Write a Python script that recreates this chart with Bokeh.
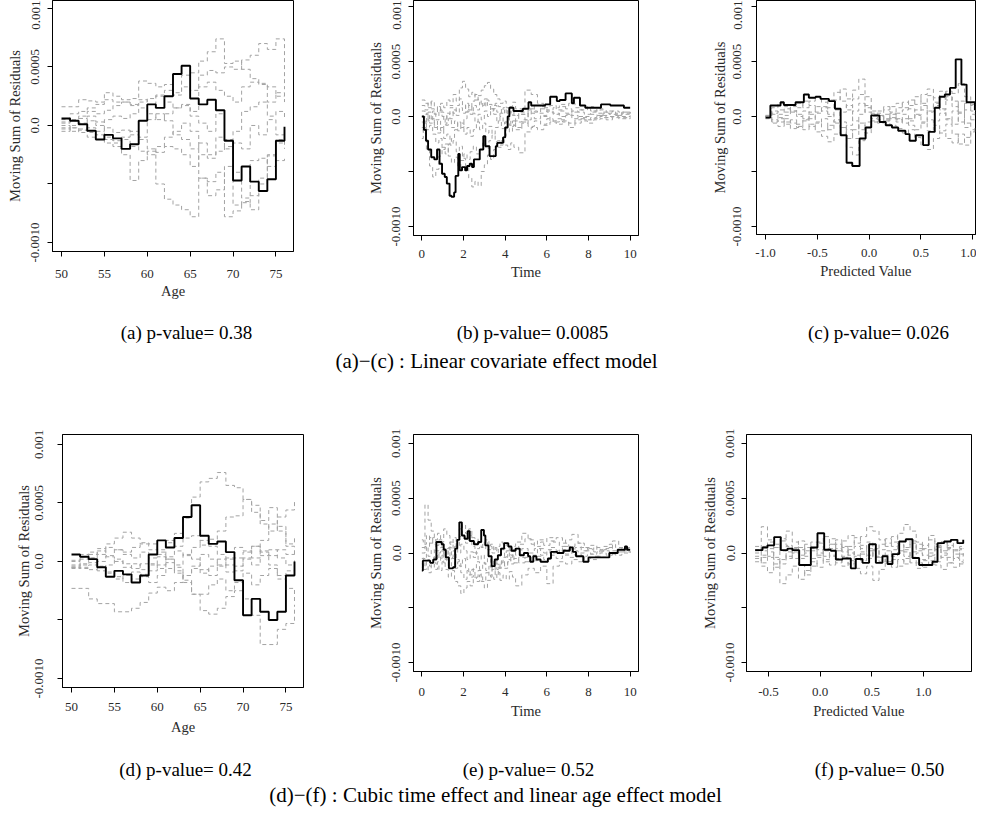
from bokeh.plotting import figure
from bokeh.layouts import column, row
from bokeh.models import FixedTicker, Range1d, PrintfTickFormatter
from bokeh.embed import file_html
from bokeh.resources import INLINE
from bokeh.core.properties import value

FONT = "Liberation Serif"

# ---------------- data (all residual values in units of 1e-4) ----------------
Y_TICKS = [-10, -5, 0, 5, 10]
Y_TICK_LABELS = {-10: "-0.0010", -5: "", 0: "0.0", 5: "0.0005", 10: "0.001"}
Y_LABEL = "Moving Sum of Residuals"

AGE = [50, 51, 52, 53, 54, 55, 56, 57, 58, 59, 60, 61, 62, 63, 64, 65, 66, 67, 68, 69, 70, 71, 72, 73, 74, 75, 76]
AGE_TICKS = [50, 55, 60, 65, 70, 75]
TIME_TICKS = [0, 2, 4, 6, 8, 10]
PRED_TICKS_C = [-1.0, -0.5, 0.0, 0.5, 1.0]
PRED_TICKS_F = [-0.5, 0.0, 0.5, 1.0]

# (a) age, linear model
A_OBS = [0.6, 0.4, 0.1, -0.45, -1.2, -0.8, -1.1, -2.0, -1.6, 0.4, 1.8, 1.5, 2.5, 4.4, 5.1, 2.3, 1.8, 2.2, 1.3, -1.3, -4.7, -3.5, -4.8, -5.6, -4.6, -1.3, -0.1]
A_SIM = [
    [1.6, 1.6, 2.2, 2.1, 2.0, 2.8, 2.5, 2.2, 2.3, 3.8, 3.6, 3.3, 3.5, 2.8, 4.3, 4.5, 5.5, 6.3, 7.4, 5.3, 5.5, 4.8, 4.0, 3.6, 3.3, 2.5, 3.0],
    [0.2, 0.5, 0.8, 1.2, 1.0, 1.3, 1.7, 2.0, 1.7, 2.2, 1.8, 2.5, 3.0, 2.6, 3.3, 3.0, 4.3, 4.7, 4.5, 5.0, 4.8, 5.6, 6.0, 7.0, 6.5, 7.4, 3.1],
    [-0.2, -0.5, -0.4, -1.0, -1.2, -1.5, -1.8, -2.5, -4.7, -3.0, -2.2, -5.0, -6.3, -6.8, -7.2, -7.8, -4.5, -4.8, -4.0, -7.8, -7.3, -6.6, -6.0, -4.5, -2.6, -3.0, -2.8],
    [-0.5, -0.2, -0.6, 0.8, 0.3, -1.0, -1.3, -1.0, -0.5, -1.0, 0.5, 1.0, 0.4, -0.8, -1.2, -2.0, -1.5, -2.5, -1.0, -1.2, -6.8, -6.5, -7.2, -5.0, -2.5, -1.2, -2.0],
    [0.5, 1.0, 1.2, 1.5, 1.8, 2.2, 2.0, 2.0, 1.8, 2.0, 2.3, 2.6, 2.0, 1.5, 1.8, 1.2, 3.3, 3.7, 3.0, 2.5, 2.0, 3.3, 3.7, 3.5, 2.0, 2.8, 2.0],
    [0.0, -0.2, -0.3, -0.6, -0.8, -1.2, -1.5, -1.2, -1.8, -2.2, -2.5, -1.8, -1.0, -0.5, 0.2, -0.5, -4.5, -6.0, -5.5, -3.5, -4.0, -6.2, -3.0, -2.8, -3.5, -1.5, -1.2],
    [0.3, 0.4, 0.6, 0.4, 0.0, 0.5, 0.8, 0.6, 1.0, 1.5, 1.0, 0.5, 1.0, 1.5, 1.7, 0.8, 0.2, -0.5, 1.0, -2.0, -0.5, 1.2, 1.6, 2.0, 0.8, 1.2, 0.5],
    [-0.3, 0.0, 0.2, -0.2, -0.5, -0.2, -0.6, -0.4, -0.8, -1.2, -2.0, -2.3, -1.8, -2.0, -2.5, -3.5, -2.5, -2.8, -2.2, -1.8, -1.5, -2.0, 0.0, -0.8, 0.5, -0.8, -0.5],
]

# (d) age, cubic time model
D_OBS = [0.6, 0.4, 0.2, -0.5, -1.3, -0.8, -1.1, -1.8, -1.2, 0.6, 1.8, 1.2, 2.0, 3.8, 4.8, 2.2, 1.5, 1.7, 0.8, -1.6, -4.6, -3.2, -4.3, -5.0, -4.3, -1.2, 0.0]
D_SIM = [
    [-2.3, -2.3, -3.2, -3.6, -3.6, -4.3, -4.3, -4.0, -3.5, -2.7, -2.2, -2.5, -1.8, -1.2, -0.6, -1.0, -0.4, 0.2, -0.3, 0.3, 0.8, 1.3, 0.9, 0.5, 1.0, 0.6, 0.9],
    [-0.3, 0.2, 0.6, 1.1, 1.5, 2.0, 2.5, 2.0, 1.5, 1.5, 1.0, 1.6, 2.4, 3.7, 5.5, 6.8, 7.1, 7.6, 6.5, 6.3, 5.3, 4.2, 3.2, 2.6, 3.8, 4.4, 5.3],
    [-0.5, -0.6, -0.3, -0.8, -1.0, -1.5, -1.2, -0.9, -1.3, -1.8, -1.2, -0.6, -1.0, -1.6, -2.8, -4.2, -4.5, -4.0, -3.0, -2.5, -3.2, -4.6, -7.1, -7.1, -5.8, -5.3, -3.7],
    [-0.4, -0.2, 0.3, 0.0, 0.5, 1.0, 0.8, 1.2, 1.6, 1.0, 0.6, 1.8, 1.3, 2.0, 2.2, 1.4, 1.9, 2.6, 3.8, 3.9, 5.3, 4.8, 3.5, 4.6, 3.0, 1.5, 2.2],
    [0.0, 0.4, 0.8, 0.6, 1.2, 1.0, 0.6, 0.3, 0.8, -0.2, -0.6, 0.2, -0.5, -1.8, -2.8, -2.8, -2.0, -1.5, -2.5, -1.8, -1.0, -2.0, -1.2, -0.6, -1.5, -2.3, -3.5],
    [-0.6, -0.5, -0.7, -0.4, -0.9, -1.3, -1.8, -1.5, -1.1, -0.8, -0.3, 0.4, 0.9, 0.5, 1.2, 1.8, 1.3, 0.6, 0.2, 1.2, 0.9, 0.3, 1.8, 3.2, 2.6, 1.3, 0.5],
    [-0.5, -0.3, -0.1, -0.5, -0.3, 0.2, -0.2, -0.6, -0.2, 0.3, 0.8, 0.2, -0.3, 0.6, 0.2, -0.7, -1.2, -0.4, 0.3, -0.8, 0.3, 1.3, 0.8, -0.3, -1.2, -0.8, -0.2],
    [0.1, 0.6, 0.3, 0.9, 0.4, 0.0, -0.5, -0.2, -0.7, -0.3, 0.4, -0.1, -0.8, -1.2, -0.4, 0.6, 0.2, -0.3, -0.9, -0.4, 0.2, -0.3, 0.5, 1.0, 0.3, -0.3, 0.3],
]

# time grids for the simulated paths of (b) and (e)
T_GRID1 = [0, 0.15, 0.3, 0.45, 0.6, 0.75, 0.9, 1.05, 1.2, 1.35, 1.5, 1.65, 1.8, 1.95, 2.1, 2.25, 2.4, 2.55, 2.7, 2.85, 3.0, 3.15, 3.3, 3.45, 3.6, 3.75, 3.9, 4.05, 4.2, 4.35, 4.5, 4.8, 5.1, 5.4, 5.7, 6.0, 6.3, 6.6, 6.9, 7.2, 7.5, 7.8, 8.1, 8.4, 8.7, 9.0, 9.3, 9.6, 10.0]
T_GRID2 = [0, 0.07, 0.22, 0.37, 0.52, 0.67, 0.82, 0.97, 1.12, 1.27, 1.42, 1.57, 1.72, 1.87, 2.02, 2.17, 2.32, 2.47, 2.62, 2.77, 2.92, 3.07, 3.22, 3.37, 3.52, 3.67, 3.82, 3.97, 4.12, 4.27, 4.42, 4.65, 4.95, 5.25, 5.55, 5.85, 6.15, 6.45, 6.75, 7.05, 7.35, 7.65, 7.95, 8.25, 8.55, 8.85, 9.15, 9.45, 10.0]

# (b) time, linear model
B_OBS_T = [0, 0.1, 0.2, 0.3, 0.45, 0.6, 0.73, 0.85, 0.97, 1.1, 1.2, 1.33, 1.42, 1.55, 1.62, 1.75, 1.82, 1.93, 2.08, 2.17, 2.3, 2.41, 2.5, 2.78, 2.95, 3.05, 3.25, 3.55, 3.62, 3.9, 4.0, 4.12, 4.2, 4.4, 4.85, 5.12, 5.25, 5.36, 5.92, 6.16, 6.48, 6.62, 6.9, 7.2, 7.3, 7.59, 7.85, 8.6, 9.05, 9.7, 10.0]
B_OBS = [0.0, -1.2, -2.2, -3.0, -3.7, -3.9, -3.0, -4.3, -5.2, -5.5, -6.1, -7.2, -7.3, -6.9, -5.4, -3.4, -4.9, -4.6, -4.9, -4.5, -4.3, -4.6, -3.9, -3.0, -1.8, -2.7, -3.6, -2.7, -2.4, -1.9, -1.0, 0.0, 0.8, 0.5, 0.7, 1.3, 1.0, 1.0, 1.1, 1.8, 1.4, 1.5, 2.1, 1.2, 1.7, 1.0, 0.8, 1.1, 1.0, 0.8, 0.8]
B_SIM = [
    (1, [1.5, 1.2, 0.8, 1.4, 0.9, 0.5, 1.2, 0.8, 1.5, 1.0, 2.0, 1.4, 2.6, 3.2, 2.5, 1.8, 2.2, 1.5, 1.9, 2.4, 2.8, 3.1, 2.5, 2.0, 1.6, 1.2, 1.4, 0.8, 0.4, 0.1, -0.5, -0.3, 0.6, 1.0, 0.7, 0.4, 0.2, 0.5, 0.3, 0.1, -0.2, 0.0, 0.2, 0.1, 0.3, 0.2, 0.1, 0.2, 0.2]),
    (2, [-0.5, -1.5, -3.0, -4.5, -5.5, -4.8, -3.6, -2.8, -3.4, -2.5, -2.0, -1.2, -0.5, -1.0, -0.2, 0.5, 0.2, 1.0, 0.6, 1.3, 0.9, 1.5, 1.1, 0.7, 1.2, 0.9, 0.3, 0.6, 0.2, 0.5, 0.1, 0.4, 2.4, 2.0, 1.2, 0.8, 1.0, 0.6, 0.9, 1.2, 0.8, 0.6, 0.9, 0.5, 0.6, 0.4, 0.5, 0.4, 0.3]),
    (1, [0.5, 0.2, -0.4, -0.2, -0.8, -1.5, -1.0, -2.0, -1.6, -2.6, -2.2, -3.2, -2.7, -3.8, -4.6, -5.6, -6.4, -5.9, -6.3, -5.0, -4.4, -3.5, -3.9, -3.0, -2.2, -2.6, -1.8, -1.0, -1.4, -0.8, -1.2, -0.5, -0.9, -0.4, -0.7, -0.2, -0.5, -0.3, 0.1, -0.2, 0.0, -0.3, -0.1, 0.1, -0.1, 0.0, 0.1, 0.0, 0.1]),
    (2, [-1.0, -0.6, -1.2, -0.8, -1.6, -2.4, -2.0, -3.0, -2.5, -3.6, -4.2, -3.7, -4.6, -4.0, -3.4, -3.9, -3.2, -2.7, -3.4, -3.0, -2.4, -2.9, -2.2, -1.7, -2.3, -2.8, -2.1, -2.6, -3.0, -2.4, -2.8, -3.3, -1.4, -1.0, -1.2, -0.8, -0.5, -0.7, -0.4, -0.6, -0.3, -0.1, -0.3, -0.2, 0.0, -0.1, 0.0, -0.1, 0.0]),
    (1, [1.0, 0.6, 1.3, 0.7, 0.2, 0.9, 0.4, -0.3, 0.3, -0.2, 0.6, 0.1, 0.8, 0.3, 1.2, 0.6, 1.4, 2.0, 1.5, 1.0, 1.6, 1.0, 0.5, 1.0, 0.4, 0.0, -0.6, -0.2, -0.8, -0.4, -1.0, -0.6, 0.3, -0.2, 0.1, 0.5, 0.3, 0.0, 0.2, 0.5, 0.4, 0.2, 0.4, 0.3, 0.1, 0.3, 0.2, 0.3, 0.2]),
    (2, [-2.0, -1.0, 0.3, -0.6, 0.5, -0.3, 0.6, 0.0, -0.8, -0.2, -1.0, -0.4, -1.3, -0.6, -1.6, -1.0, -1.8, -1.2, -0.5, -1.2, -0.6, -1.5, -0.9, -1.6, -1.0, -0.4, -1.1, -0.5, -0.2, -0.9, -0.4, 0.2, -0.3, 0.5, 0.3, 0.0, -0.4, -0.2, -0.5, -1.0, -0.6, -0.4, -0.6, -0.3, -0.2, -0.3, -0.1, -0.2, -0.1]),
    (1, [0.0, -0.5, 0.4, -0.3, -1.0, -0.4, -1.3, -0.7, 0.2, 0.8, 0.3, 1.0, 1.6, 1.0, 0.4, 1.0, 0.3, -0.5, 0.2, -0.3, 0.5, 0.0, 0.7, 0.2, -0.4, 0.3, 0.8, 0.3, 0.9, 1.3, 0.7, 0.2, 0.7, 0.4, 0.9, 0.6, 0.8, 1.1, 0.7, 0.4, 0.6, 0.8, 0.5, 0.7, 0.4, 0.5, 0.3, 0.4, 0.3]),
]

# (e) time, cubic time model
E_OBS_T = [0, 0.05, 0.4, 0.55, 0.7, 0.95, 1.05, 1.15, 1.3, 1.5, 1.6, 1.7, 1.8, 1.92, 2.05, 2.2, 2.3, 2.5, 2.7, 2.85, 2.98, 3.05, 3.2, 3.35, 3.5, 3.65, 3.8, 3.95, 4.15, 4.3, 4.5, 4.7, 4.9, 5.1, 5.2, 5.35, 5.5, 5.7, 6.05, 6.2, 6.5, 6.8, 7.1, 7.25, 7.4, 7.75, 8.0, 8.6, 9.0, 9.4, 9.75, 9.85, 10.0]
E_OBS = [-1.6, -0.7, -0.9, -0.6, 1.0, 0.8, 0.3, -0.4, -1.4, -1.3, 0.4, 1.2, 2.8, 1.6, 1.3, 2.0, 1.1, 0.8, 1.0, 2.1, 1.6, 0.7, -0.3, -1.2, -0.6, -0.2, 0.4, 0.9, 0.6, 0.2, 0.4, -0.2, 0.0, -0.3, -0.8, -0.3, -0.6, -0.8, -0.5, 0.1, 0.0, 0.2, 0.5, 0.1, -0.3, -0.8, -0.4, -0.4, 0.0, 0.3, 0.6, 0.3, 0.3]
E_SIM = [
    (1, [0.5, 4.4, 3.0, 2.0, 1.2, 1.8, 1.0, 2.2, 1.6, 0.8, 1.4, 0.6, 1.5, 2.6, 1.8, 2.2, 1.4, 0.8, 1.3, 0.5, 1.0, 0.3, 0.8, 0.2, 0.6, 1.0, 0.4, 0.8, 0.2, 0.6, 1.0, 1.8, 1.2, 0.6, 1.0, 1.4, 1.0, 0.6, 1.2, 1.7, 0.9, 0.5, 0.7, 0.3, 0.6, 0.8, 0.5, 0.4, 0.4]),
    (2, [-1.0, -1.5, -0.6, -1.2, -0.4, -1.0, -1.6, -0.8, -1.5, -2.2, -1.6, -2.6, -3.0, -3.7, -3.2, -2.6, -3.0, -2.2, -2.6, -2.0, -2.5, -1.8, -1.2, -1.6, -1.0, -1.4, -0.8, -1.2, -0.6, -1.0, -0.5, -0.9, -0.4, -0.7, -0.3, -0.6, -0.2, -0.5, -0.2, -0.4, -0.1, -0.3, -0.1, -0.3, 0.0, -0.2, 0.0, 0.1, 0.0]),
    (1, [0.0, 0.6, -0.3, 0.3, -0.6, 0.0, 0.5, -0.2, 0.4, -0.4, 0.2, -0.6, -1.2, -0.5, -1.4, -2.0, -1.5, -2.2, -1.6, -2.6, -3.2, -2.5, -2.0, -2.4, -1.8, -2.5, -2.0, -2.4, -1.7, -2.2, -3.0, -2.0, -1.4, -1.8, -1.2, -2.8, -1.2, -0.8, -1.0, -0.6, -0.8, -0.4, -0.6, -0.3, -0.4, -0.1, -0.2, 0.0, 0.1]),
    (2, [1.2, 0.8, 1.6, 0.9, 1.4, 0.7, 1.2, 0.4, -0.3, 0.5, -0.2, 0.6, 0.0, 0.8, 0.2, -0.6, 0.1, -0.4, 0.4, 1.0, 0.4, 1.2, 0.6, 0.0, 0.5, -0.2, 0.3, -0.4, 0.2, -0.2, 0.3, 0.8, 1.3, 0.8, 1.2, 0.7, 1.1, 1.4, 0.9, 0.6, 0.9, 0.5, 0.3, 0.5, 0.2, 0.4, 1.1, 0.5, 0.5]),
    (1, [-0.5, -1.2, -1.8, -1.0, -1.5, -0.8, -0.2, -0.9, 0.2, 1.0, 0.4, 1.2, 2.2, 1.5, 0.9, 1.6, 0.6, 0.0, -0.6, -0.2, -1.0, -0.5, -1.3, -0.7, -1.5, -0.9, -0.4, 0.2, -0.4, 0.3, -0.2, 0.4, 0.0, 0.4, -0.2, 0.3, 0.0, 0.3, -0.1, 0.2, 0.0, 0.2, -0.1, 0.1, 0.2, 0.0, 0.1, 0.2, 0.1]),
    (2, [-1.3, -0.4, 0.6, 1.4, 0.8, 0.2, -0.5, 0.3, -0.6, -1.2, -0.5, -1.4, -0.8, -1.8, -2.4, -1.6, -2.2, -1.4, -0.8, -1.5, -0.9, -1.6, -2.2, -1.5, -2.0, -1.3, -0.7, -1.4, -0.8, -0.3, -0.9, -0.4, -0.8, -0.2, 0.4, 0.0, 0.5, 0.2, 0.6, 0.3, 0.5, 0.2, 0.4, 0.1, 0.3, 0.5, 0.2, 0.3, 0.2]),
]

# (c) predicted value, linear model
C_GRID = [-1.0, -0.94, -0.88, -0.82, -0.76, -0.7, -0.64, -0.58, -0.52, -0.46, -0.4, -0.34, -0.28, -0.22, -0.16, -0.1, -0.04, 0.02, 0.08, 0.14, 0.2, 0.26, 0.32, 0.38, 0.44, 0.5, 0.56, 0.62, 0.68, 0.74, 0.8, 0.86, 0.92, 0.98, 1.02]
C_OBS_X = [-1.0, -0.953, -0.855, -0.823, -0.71, -0.63, -0.582, -0.517, -0.469, -0.388, -0.33, -0.275, -0.218, -0.163, -0.092, -0.034, 0.02, 0.1, 0.16, 0.22, 0.28, 0.35, 0.39, 0.45, 0.52, 0.575, 0.633, 0.68, 0.73, 0.78, 0.835, 0.89, 0.94, 1.0, 1.02]
C_OBS = [-0.1, 1.0, 1.3, 1.05, 1.3, 2.0, 1.7, 1.8, 1.6, 1.4, 0.7, -1.7, -4.2, -4.5, -2.0, -1.0, 0.1, -0.5, -0.8, -1.0, -1.3, -1.6, -2.2, -1.7, -2.6, -1.4, 0.8, 1.8, 2.0, 2.6, 5.2, 2.9, 1.3, 1.3, 0.6]
C_SIM = [
    [0.0, 0.3, 0.6, 0.4, 0.9, 1.2, 0.8, 1.4, 1.8, 1.3, 0.8, 1.5, 2.5, 1.6, 2.4, 3.4, 1.8, 0.5, 0.3, 0.6, 0.9, 1.2, 0.8, 1.5, 1.1, 2.0, 2.5, 1.7, 2.3, 1.5, 2.1, 3.0, 1.8, 1.0, 0.8],
    [0.0, -0.3, -0.5, -0.2, -0.6, -0.9, -1.2, -0.7, -1.4, -1.8, -2.3, -1.6, -1.0, -2.8, -3.5, -2.2, -1.0, -0.4, -0.6, -0.3, -0.8, -1.1, -1.5, -1.2, -1.9, -2.6, -3.0, -2.0, -1.3, -0.7, -1.6, -2.5, -1.9, -1.2, -0.9],
    [0.1, 0.5, 0.2, 0.7, 0.4, 0.0, 0.5, -0.2, 0.3, 0.8, 0.2, -0.5, 0.4, 1.0, -0.4, -1.2, -0.5, 0.2, 0.5, 0.9, 0.4, 0.8, 1.3, 0.7, 0.2, -0.6, 0.4, 1.2, 0.6, 1.8, 0.9, -0.5, 0.6, 1.1, 0.5],
    [-0.2, -0.5, -0.1, -0.7, -0.3, -1.0, -0.4, 0.2, -0.6, -0.2, -1.2, -0.6, -1.6, -0.8, 0.5, 1.2, 0.4, -0.2, 0.1, -0.4, -0.1, -0.5, -0.2, -0.8, -1.2, -0.5, -1.3, -0.4, 0.3, -0.3, 0.5, 1.4, -0.6, -0.3, -0.2],
    [0.0, 0.8, 1.2, 0.9, 0.5, 0.8, 1.4, 1.0, 0.4, 0.9, 1.5, 2.2, 1.4, 0.6, 1.6, 2.0, 0.8, 0.0, -0.3, 0.2, -0.2, 0.3, 0.6, 1.0, 1.8, 1.2, 0.5, 1.0, 1.6, 2.3, 1.4, 0.4, 1.2, 0.5, 0.3],
    [0.0, -0.6, -0.9, -0.5, -1.1, -0.7, -0.3, -0.9, -0.5, -1.3, -0.8, -0.3, -1.0, -2.0, -1.2, -0.6, -1.5, -0.5, 0.0, -0.4, 0.2, -0.3, 0.2, -0.4, 0.1, 0.6, -0.3, -0.8, -1.5, -2.0, -2.4, -1.6, -2.6, -1.4, -1.0],
    [0.1, 0.2, -0.2, 0.1, 0.5, 0.2, -0.2, 0.4, 0.9, 0.5, 0.0, 0.6, -0.5, -1.2, -2.0, 0.2, 1.0, 0.3, 0.1, -0.2, 0.3, -0.2, -0.6, -0.2, 0.6, 1.0, 1.9, 1.3, 0.7, -0.2, -0.7, 0.3, -1.0, 0.2, 0.1],
]

# (f) predicted value, cubic time model
F_GRID = [-0.63, -0.57, -0.51, -0.45, -0.39, -0.33, -0.27, -0.21, -0.15, -0.09, -0.03, 0.03, 0.09, 0.15, 0.21, 0.27, 0.33, 0.39, 0.45, 0.51, 0.57, 0.63, 0.69, 0.75, 0.81, 0.87, 0.93, 0.99, 1.05, 1.11, 1.17, 1.23, 1.29, 1.35, 1.385]
F_OBS_X = [-0.629, -0.558, -0.51, -0.445, -0.381, -0.316, -0.268, -0.203, -0.09, -0.026, 0.039, 0.103, 0.152, 0.216, 0.297, 0.345, 0.41, 0.474, 0.539, 0.603, 0.652, 0.7, 0.765, 0.829, 0.894, 0.958, 1.087, 1.136, 1.2, 1.265, 1.329, 1.385]
F_OBS = [0.26, 0.5, 0.7, 1.45, 0.26, 0.4, 0.26, -1.1, 0.5, 1.8, 0.3, 0.2, -0.6, -0.5, -1.4, -0.55, -0.9, 0.8, -0.9, -0.3, -1.0, -0.1, 1.05, 1.25, -0.45, -1.1, -0.8, 0.9, 1.05, 1.2, 0.9, 1.2]
F_SIM = [
    [0.3, 2.4, 1.2, 0.5, 1.1, 2.0, 1.0, 0.3, 0.8, 0.2, 1.0, 1.5, 0.8, 0.2, 1.1, 1.6, 0.9, 1.5, 2.4, 2.0, 1.2, 0.6, 1.0, 1.8, 2.6, 2.0, 1.0, 0.4, 1.6, 0.8, 0.2, 0.7, 0.3, 0.6, 0.4],
    [-0.5, -1.2, -1.8, -1.0, -2.8, -2.0, -1.2, -2.4, -1.6, -0.8, -1.3, -0.6, -1.1, -0.5, -1.2, -0.7, -1.4, -1.9, -1.2, -2.5, -1.5, -0.8, -1.3, -0.6, -1.0, -0.4, -0.9, -1.3, -0.7, -1.1, -1.5, -0.9, -1.3, -0.8, -0.9],
    [0.0, 0.6, -0.3, 0.8, 0.2, -0.5, 0.4, -0.2, 0.5, 1.0, 0.3, -0.3, 0.4, 1.2, 0.5, -0.2, 0.6, 0.1, -0.5, 0.3, 0.8, 1.3, 0.6, 0.0, 0.5, 1.1, 0.4, -0.2, 0.3, 0.7, 0.0, -0.4, 0.2, -0.3, 0.0],
    [-0.8, -0.2, 0.4, -0.4, -1.0, -0.3, 0.5, 1.1, 0.2, -0.5, 0.0, -0.8, -0.2, 0.4, -0.4, -1.0, -0.3, 0.4, 1.0, 0.2, -0.4, 0.2, -0.6, -1.2, -0.5, 0.1, 0.8, 0.3, -0.3, -0.8, -0.2, 0.3, -0.5, -1.0, -0.6],
    [0.6, 0.2, 1.0, 0.5, 1.3, 0.7, 0.0, 0.5, -0.3, 0.4, 0.9, 0.4, 1.3, 0.8, 0.1, 0.6, 1.4, 0.7, 0.2, -0.4, 0.3, 0.9, 1.5, 0.8, 0.3, 0.9, 0.2, 0.7, 1.2, 0.6, 1.0, 0.5, 0.9, 0.4, 0.5],
    [-0.3, -0.9, -0.4, -1.3, -0.6, 0.1, -0.5, -1.1, -2.0, -1.2, -0.4, 0.2, -0.3, -0.9, -0.3, 0.3, -0.2, -0.7, -0.2, 0.4, -0.2, -0.8, -0.3, 0.2, -0.3, -0.9, -1.4, -0.7, -0.2, 0.3, -0.4, -0.9, -0.4, -0.1, -0.3],
    [0.2, -0.4, 0.1, -0.6, 0.2, 0.6, 0.1, -0.5, 0.0, 0.5, -0.2, 0.3, 0.8, 0.2, 0.6, 0.0, -0.6, -0.1, 0.4, -0.3, -0.8, -0.2, 0.3, 0.7, 0.1, -0.4, 0.0, -0.6, 0.0, 0.5, 1.0, 0.4, -0.1, 0.3, 0.2],
]

CAPTIONS_1 = ["(a) p-value= 0.38", "(b) p-value= 0.0085", "(c) p-value= 0.026"]
TITLE_1 = "(a)\u2212(c) : Linear covariate effect model"
CAPTIONS_2 = ["(d) p-value= 0.42", "(e) p-value= 0.52", "(f) p-value= 0.50"]
TITLE_2 = "(d)\u2212(f) : Cubic time effect and linear age effect model"

GREY = "#a3a3a3"
TEXT = "#2a2a2a"


def panel(xr, yr, fw, fh, bl, br, bt, bb, xticks, xlabel,
          ytick_st, ylab_st, xtick_st, xlab_st, xfmt=None):
    p = figure(frame_width=fw, frame_height=fh,
               x_range=Range1d(*xr), y_range=Range1d(*yr),
               min_border_left=bl, min_border_right=br,
               min_border_top=bt, min_border_bottom=bb,
               toolbar_location=None, tools="", output_backend="svg")
    p.grid.visible = False
    p.background_fill_color = "white"
    p.border_fill_color = "white"
    p.outline_line_color = "black"
    p.outline_line_width = 1
    p.outline_line_alpha = 1.0
    p.xaxis.ticker = FixedTicker(ticks=xticks)
    if xfmt is not None:
        p.xaxis.formatter = PrintfTickFormatter(format=xfmt)
    p.yaxis.ticker = FixedTicker(ticks=Y_TICKS)
    p.yaxis.major_label_overrides = Y_TICK_LABELS
    p.yaxis.major_label_orientation = "vertical"
    p.xaxis.axis_label = xlabel
    p.yaxis.axis_label = Y_LABEL
    for ax in (p.xaxis[0], p.yaxis[0]):
        ax.axis_line_color = "black"
        ax.major_tick_line_color = "black"
        ax.major_tick_out = 5
        ax.major_tick_in = 0
        ax.minor_tick_line_color = None
        ax.major_label_text_font = FONT
        ax.major_label_text_font_size = "13px"
        ax.major_label_text_color = TEXT
        ax.axis_label_text_font = FONT
        ax.axis_label_text_font_size = "14.5px"
        ax.axis_label_text_font_style = "normal"
        ax.axis_label_text_color = TEXT
    p.yaxis[0].major_label_standoff = ytick_st
    p.yaxis[0].axis_label_standoff = ylab_st
    p.xaxis[0].major_label_standoff = xtick_st
    p.xaxis[0].axis_label_standoff = xlab_st
    return p


def grey_step(p, x, y):
    n = min(len(x), len(y))
    p.step(x=x[:n], y=y[:n], mode="after", line_color=GREY, line_width=1,
           line_dash="4 3")


def black_step(p, x, y):
    n = min(len(x), len(y))
    p.step(x=x[:n], y=y[:n], mode="after", line_color="black", line_width=1.9)


# ---------------- row 1 ----------------
pa = panel((48.95, 77.05), (-10.77, 10.68), 241, 251, 52, 39, 0, 59, AGE_TICKS, "Age", 8, 6, 13, 2)
for s in A_SIM:
    grey_step(pa, AGE, s)
black_step(pa, AGE, A_OBS)

pb = panel((-0.4, 10.4), (-10.82, 10.55), 225, 235, 81, 44, 0, 75, TIME_TICKS, "Time", 8, 6, 9, 3)
for g, s in B_SIM:
    grey_step(pb, T_GRID1 if g == 1 else T_GRID2, s)
black_step(pb, B_OBS_T, B_OBS)

pc = panel((-1.087, 1.026), (-10.73, 10.55), 219, 234, 74, 1, 0, 76, PRED_TICKS_C, "Predicted Value", 10, 3, 9, 3, "%.1f")
for s in C_SIM:
    grey_step(pc, C_GRID, s)
black_step(pc, C_OBS_X, C_OBS)

# ---------------- row 2 ----------------
pd_ = panel((48.95, 77.05), (-10.77, 10.85), 241, 253, 62, 29, 30, 55, AGE_TICKS, "Age", 14, 1, 10, 5)
for s in D_SIM:
    grey_step(pd_, AGE, s)
black_step(pd_, AGE, D_OBS)

pe = panel((-0.4, 10.4), (-10.82, 10.82), 225, 237, 81, 44, 29, 72, TIME_TICKS, "Time", 8, 6, 11, 4)
for g, s in E_SIM:
    grey_step(pe, T_GRID1 if g == 1 else T_GRID2, s)
black_step(pe, E_OBS_T, E_OBS)

pf = panel((-0.713, 1.465), (-10.82, 10.82), 225, 237, 64, 5, 29, 72, PRED_TICKS_F, "Predicted Value", 7, 6, 11, 4, "%.1f")
for s in F_SIM:
    grey_step(pf, F_GRID, s)
black_step(pf, F_OBS_X, F_OBS)


# ---------------- captions ----------------
def caption_fig(h, cap_x, cap_y, caps, title_x, title_y, title):
    p = figure(width=976, height=h, x_range=Range1d(0, 976), y_range=Range1d(0, h),
               x_axis_type=None, y_axis_type=None, min_border=0,
               toolbar_location=None, tools="", output_backend="svg")
    p.outline_line_color = None
    p.background_fill_color = "white"
    p.border_fill_color = "white"
    p.text(x=cap_x, y=[cap_y] * len(caps), text=caps, text_font=value(FONT),
           text_font_size="19px", text_align="center", text_baseline="middle",
           text_color="black")
    p.text(x=[title_x], y=[title_y], text=[title], text_font=value(FONT),
           text_font_size="21px", text_align="center", text_baseline="middle",
           text_color="black")
    return p


cap1 = caption_fig(94, [186, 532, 878], 72, CAPTIONS_1, 496, 44, TITLE_1)
cap2 = caption_fig(67, [185, 528, 879], 40, CAPTIONS_2, 495, 15, TITLE_2)

layout = column(row(pa, pb, pc), cap1, row(pd_, pe, pf), cap2)

open("out.html", "w").write(file_html(layout, INLINE))
